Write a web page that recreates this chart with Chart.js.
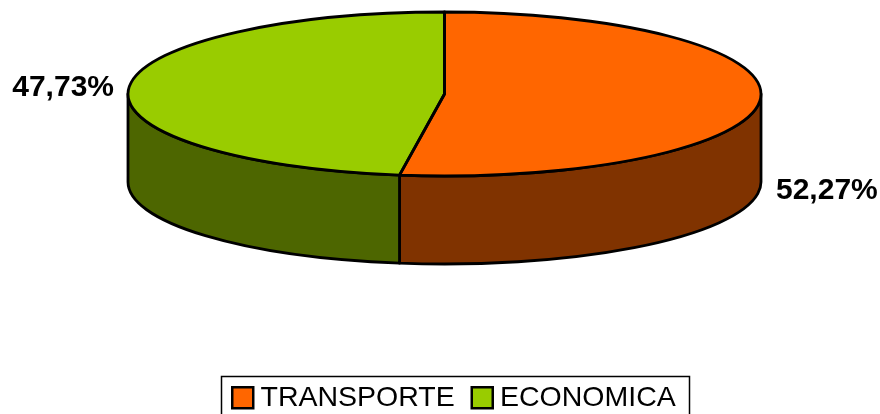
<!DOCTYPE html>
<html>
<head>
<meta charset="utf-8">
<style>
  html, body { margin: 0; background: #fff; }
  canvas { display: block; }
</style>
<script src="https://cdn.jsdelivr.net/npm/chart.js@4/dist/chart.umd.min.js"></script>
</head>
<body>
<canvas id="pie3d" width="880" height="414"></canvas>
<script>
const categories = ['TRANSPORTE', 'ECONOMICA'];
const values = [52.27, 47.73];
const topColors = ['#FF6600', '#99CC00'];
const sideColors = ['#803300', '#4D6600'];

// ellipse of the top face, the pie is a circle squashed with this
const cx = 444.5, cy = 94, rx = 316.5, ry = 82, depth = 88;

const pie3d = {
  id: 'pie3d',
  beforeDatasetsDraw(chart) {
    const ctx = chart.ctx;
    const arcs = chart.getDatasetMeta(0).data;

    // side wall, only the front half can be seen
    ctx.save();
    ctx.lineWidth = 2.8;
    ctx.lineJoin = 'round';
    ctx.strokeStyle = '#000';
    arcs.forEach((arc, i) => {
      const a0 = Math.max(arc.startAngle, 0);
      const a1 = Math.min(arc.endAngle, Math.PI);
      if (a1 <= a0) return;
      ctx.beginPath();
      ctx.ellipse(cx, cy, rx, ry, 0, a0, a1);
      ctx.ellipse(cx, cy + depth, rx, ry, 0, a1, a0, true);
      ctx.closePath();
      ctx.fillStyle = sideColors[i];
      ctx.fill();
      ctx.stroke();
    });
    ctx.restore();

    // top face, drawn by the library inside this transform
    const first = arcs[0];
    ctx.save();
    ctx.translate(cx, cy);
    ctx.scale(1, ry / rx);
    ctx.translate(-first.x, -first.y);
  },
  afterDatasetsDraw(chart) {
    const ctx = chart.ctx;
    ctx.restore();

    const arcs = chart.getDatasetMeta(0).data;
    ctx.save();
    ctx.lineWidth = 2.8;
    ctx.lineJoin = 'round';
    ctx.strokeStyle = '#000';
    arcs.forEach(arc => {
      ctx.beginPath();
      ctx.moveTo(cx, cy);
      ctx.ellipse(cx, cy, rx, ry, 0, arc.startAngle, arc.endAngle);
      ctx.closePath();
      ctx.stroke();
    });

    // percent labels
    ctx.fillStyle = '#000';
    ctx.font = 'bold 30px "Liberation Sans"';
    ctx.textBaseline = 'middle';
    ctx.textAlign = 'left';
    ctx.fillText(values[0].toFixed(2).replace('.', ',') + '%', 776, 191);
    ctx.textAlign = 'right';
    ctx.fillText(values[1].toFixed(2).replace('.', ',') + '%', 114, 88);
    ctx.restore();
  },
  afterDraw(chart) {
    // legend frame, its bottom edge is cut off by the page
    const ctx = chart.ctx;
    ctx.save();
    ctx.lineWidth = 1.5;
    ctx.strokeStyle = '#000';
    ctx.strokeRect(221.5, 376.5, 468, 50);
    ctx.restore();
  }
};

new Chart(document.getElementById('pie3d'), {
  type: 'pie',
  data: {
    labels: categories,
    datasets: [{
      data: values,
      backgroundColor: topColors,
      borderWidth: 0,
      clip: false
    }]
  },
  options: {
    responsive: false,
    animation: false,
    radius: rx,
    layout: { padding: { left: 35, bottom: -8 } },
    plugins: {
      tooltip: { enabled: false },
      legend: {
        position: 'bottom',
        labels: {
          usePointStyle: true,
          boxWidth: 7,
          boxHeight: 21,
          padding: 24,
          color: '#000',
          font: { family: '"Liberation Sans"', size: 28.5 },
          generateLabels: chart => chart.data.labels.map((text, i) => ({
            text,
            index: i,
            fillStyle: topColors[i],
            strokeStyle: '#000',
            lineWidth: 2.5,
            pointStyle: 'rect',
            fontColor: '#000',
            hidden: false
          }))
        }
      }
    }
  },
  plugins: [pie3d]
});
</script>
</body>
</html>
